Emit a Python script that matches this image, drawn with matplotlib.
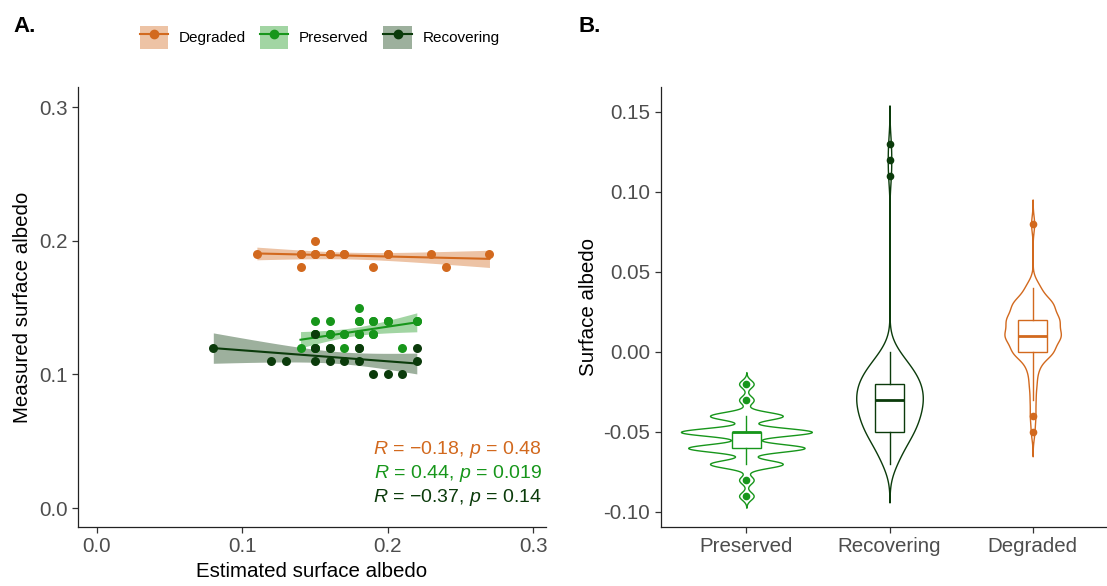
import numpy as np
import matplotlib
matplotlib.use('Agg')
import matplotlib.pyplot as plt
from matplotlib.patches import Patch
from matplotlib.lines import Line2D
from matplotlib.ticker import FormatStrFormatter

plt.rcParams['font.family'] = ['Liberation Sans', 'DejaVu Sans']
plt.rcParams['mathtext.fontset'] = 'custom'
plt.rcParams['mathtext.rm'] = 'Liberation Sans'
plt.rcParams['mathtext.it'] = 'Liberation Sans:italic'
plt.rcParams['axes.unicode_minus'] = False

colors = {'Degraded': '#D2691E', 'Preserved': '#17961B', 'Recovering': '#0B3B0B'}

# ---- panel A: estimated vs measured albedo ----
degraded_est = [0.11, 0.14, 0.14, 0.15, 0.15, 0.16, 0.17, 0.19, 0.20, 0.23, 0.24, 0.27,
                0.14, 0.15, 0.16, 0.17, 0.20]
degraded_meas = [0.19, 0.19, 0.18, 0.20, 0.19, 0.19, 0.19, 0.18, 0.19, 0.19, 0.18, 0.19,
                 0.19, 0.19, 0.19, 0.19, 0.19]

preserved_est = [0.18, 0.15, 0.16, 0.18, 0.19, 0.20, 0.22, 0.16, 0.17, 0.18, 0.19, 0.14, 0.17, 0.21,
                 0.15, 0.15, 0.16, 0.15, 0.15, 0.22, 0.18, 0.20, 0.19, 0.18, 0.17, 0.18, 0.19, 0.16]
preserved_meas = [0.15, 0.14, 0.14, 0.14, 0.14, 0.14, 0.14, 0.13, 0.13, 0.13, 0.13, 0.12, 0.12, 0.12,
                  0.12, 0.12, 0.12, 0.13, 0.13, 0.14, 0.12, 0.14, 0.14, 0.14, 0.13, 0.13, 0.13, 0.13]

recovering_est = [0.08, 0.12, 0.13, 0.15, 0.15, 0.16, 0.18, 0.22, 0.15, 0.16, 0.17, 0.18, 0.22,
                  0.19, 0.20, 0.21]
recovering_meas = [0.12, 0.11, 0.11, 0.13, 0.12, 0.12, 0.12, 0.12, 0.11, 0.11, 0.11, 0.11, 0.11,
                   0.10, 0.10, 0.10]

cor_labels = ['$R$ = \u22120.18, $p$ = 0.48', '$R$ = 0.44, $p$ = 0.019', '$R$ = \u22120.37, $p$ = 0.14']

# ---- panel B: albedo difference distributions (value levels and counts) ----
preserved_levels = [-0.09, -0.08, -0.07, -0.06, -0.05, -0.04, -0.03, -0.02]
preserved_counts = [5, 5, 25, 40, 45, 25, 5, 5]
recovering_levels = [-0.07, -0.06, -0.05, -0.04, -0.03, -0.02, -0.01, 0.00, 0.11, 0.12, 0.13]
recovering_counts = [4, 8, 14, 17, 19, 18, 13, 5, 1, 1, 1]
degraded_levels = [-0.05, -0.04, -0.03, -0.02, -0.01, 0.00, 0.01, 0.02, 0.03, 0.04, 0.08]
degraded_counts = [2, 3, 3, 4, 6, 22, 30, 28, 22, 8, 2]

box_order = ['Preserved', 'Recovering', 'Degraded']
box_med = [-0.05, -0.03, 0.01]
box_q1 = [-0.06, -0.05, 0.00]
box_q3 = [-0.05, -0.02, 0.02]
box_whislo = [-0.07, -0.07, -0.03]
box_whishi = [-0.04, 0.00, 0.04]
box_fliers = [[-0.09, -0.08, -0.03, -0.02], [0.11, 0.12, 0.13], [-0.05, -0.04, 0.08]]


def t975(df):
    # Cornish-Fisher expansion of the Student t quantile
    z = 1.959964
    g1 = (z**3 + z) / 4
    g2 = (5 * z**5 + 16 * z**3 + 3 * z) / 96
    g3 = (3 * z**7 + 19 * z**5 + 17 * z**3 - 15 * z) / 384
    g4 = (79 * z**9 + 776 * z**7 + 1482 * z**5 - 1920 * z**3 - 945 * z) / 92160
    return z + g1 / df + g2 / df**2 + g3 / df**3 + g4 / df**4


def lm_band(x, y):
    x = np.asarray(x); y = np.asarray(y)
    n = len(x)
    slope, icpt = np.polyfit(x, y, 1)
    resid = y - (icpt + slope * x)
    s = np.sqrt((resid**2).sum() / (n - 2))
    xs = np.linspace(x.min(), x.max(), 80)
    fit = icpt + slope * xs
    se = s * np.sqrt(1 / n + (xs - x.mean())**2 / ((x - x.mean())**2).sum())
    half = t975(n - 2) * se
    return xs, fit, fit - half, fit + half


def bw_nrd0(x):
    q75, q25 = np.percentile(x, [75, 25])
    lo = min(np.std(x, ddof=1), (q75 - q25) / 1.34)
    return 0.9 * lo * len(x) ** -0.2


def kde_stats(levels, counts):
    x = np.repeat(levels, counts)
    bw = bw_nrd0(x)
    grid = np.linspace(x.min() - 3 * bw, x.max() + 3 * bw, 600)
    dens = np.exp(-0.5 * ((grid[:, None] - x[None, :]) / bw) ** 2).sum(axis=1)
    dens /= len(x) * bw * np.sqrt(2 * np.pi)
    return dict(coords=grid, vals=dens, mean=x.mean(), median=np.median(x),
                min=x.min(), max=x.max())


def style_axes(ax):
    for side in ['top', 'right']:
        ax.spines[side].set_visible(False)
    for side in ['left', 'bottom']:
        ax.spines[side].set_linewidth(0.9)
        ax.spines[side].set_color('#222222')
    ax.tick_params(length=4, width=0.9, color='#333333', labelsize=14.8,
                   labelcolor='#4D4D4D', pad=3.5)


fig = plt.figure(figsize=(11.07, 5.86), dpi=100)

# ---------------- panel A ----------------
axa = fig.add_axes([78 / 1107, 59 / 586, 468 / 1107, 440 / 586])
scatter_data = [('Degraded', degraded_est, degraded_meas),
                ('Preserved', preserved_est, preserved_meas),
                ('Recovering', recovering_est, recovering_meas)]
for name, xe, ym in scatter_data:
    xs, fit, lo, hi = lm_band(xe, ym)
    axa.fill_between(xs, lo, hi, color=colors[name], alpha=0.4, lw=0)
    axa.plot(xs, fit, color=colors[name], lw=1.5)
for name, xe, ym in scatter_data:
    axa.scatter(xe, ym, s=42, color=colors[name], lw=0, zorder=3)

for i, (lab, name) in enumerate(zip(cor_labels, ['Degraded', 'Preserved', 'Recovering'])):
    axa.text(0.991, 0.175 - i * 0.0535, lab, transform=axa.transAxes, ha='right', va='center',
             fontsize=14, color=colors[name])

axa.set_xlim(-0.0131, 0.3089)
axa.set_ylim(-0.0142, 0.315)
axa.set_xticks([0.0, 0.1, 0.2, 0.3])
axa.set_yticks([0.0, 0.1, 0.2, 0.3])
axa.xaxis.set_major_formatter(FormatStrFormatter('%.1f'))
axa.yaxis.set_major_formatter(FormatStrFormatter('%.1f'))
axa.set_xlabel('Estimated surface albedo', fontsize=14.8, labelpad=4)
axa.set_ylabel('Measured surface albedo', fontsize=14.8, labelpad=5)
style_axes(axa)

handles = []
for name in ['Degraded', 'Preserved', 'Recovering']:
    handles.append((Patch(facecolor=colors[name], alpha=0.4, edgecolor='none'),
                    Line2D([], [], color=colors[name], lw=1.5, marker='o', markersize=6)))
fig.legend(handles, ['Degraded', 'Preserved', 'Recovering'], loc='center',
           bbox_to_anchor=(0.2886, 1 - 37.5 / 586), ncol=3, frameon=False, fontsize=11,
           handlelength=1.84, handleheight=2.0, handletextpad=0.7, columnspacing=0.97)

# ---------------- panel B ----------------
axb = fig.add_axes([660.5 / 1107, 59 / 586, 458 / 1107, 440 / 586])
vstats = [kde_stats(preserved_levels, preserved_counts),
          kde_stats(recovering_levels, recovering_counts),
          kde_stats(degraded_levels, degraded_counts)]
violin_widths = [0.915, 0.465, 0.394]
vp = axb.violin(vstats, positions=[1, 2, 3], widths=violin_widths, showextrema=False)
for body, name in zip(vp['bodies'], box_order):
    body.set_facecolor('white')
    body.set_edgecolor(colors[name])
    body.set_alpha(1)
    body.set_linewidth(1.0)

for i, name in enumerate(box_order):
    c = colors[name]
    st = dict(med=box_med[i], q1=box_q1[i], q3=box_q3[i], whislo=box_whislo[i],
              whishi=box_whishi[i], fliers=box_fliers[i])
    axb.bxp([st], positions=[i + 1], widths=0.2, showcaps=False, patch_artist=True,
            boxprops=dict(facecolor='white', edgecolor=c, linewidth=1.0),
            medianprops=dict(color=c, linewidth=2.0),
            whiskerprops=dict(color=c, linewidth=1.0),
            flierprops=dict(marker='o', markerfacecolor=c, markeredgecolor=c, markersize=4.5))

axb.set_xlim(0.4, 3.6)
axb.set_ylim(-0.1094, 0.1655)
axb.set_xticks([1, 2, 3])
axb.set_xticklabels(box_order)
axb.set_yticks([-0.10, -0.05, 0.00, 0.05, 0.10, 0.15])
axb.yaxis.set_major_formatter(FormatStrFormatter('%.2f'))
axb.set_ylabel('Surface albedo', fontsize=14.8, labelpad=4)
style_axes(axb)

fig.text(13 / 1107, 1 - 32 / 586, 'A.', fontsize=16, fontweight='bold', va='baseline')
fig.text(578 / 1107, 1 - 32 / 586, 'B.', fontsize=16, fontweight='bold', va='baseline')

fig.savefig('out.png', dpi=100)
